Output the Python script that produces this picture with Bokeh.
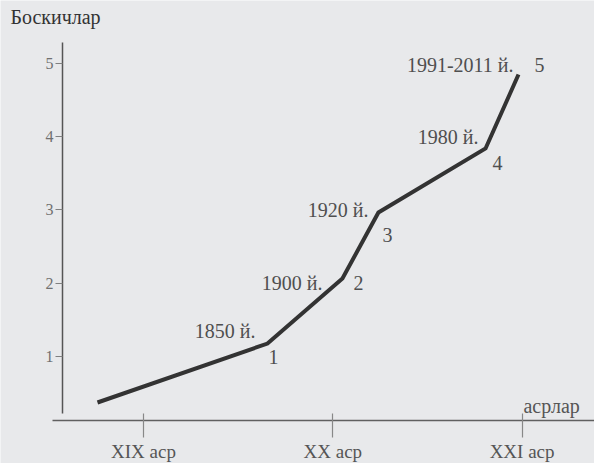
from bokeh.plotting import figure
from bokeh.models import LinearAxis, FixedTicker, Label, ColumnDataSource, Range1d
from bokeh.core.properties import value
from bokeh.embed import file_html
from bokeh.resources import INLINE

# ---- data ----
stage_x = [0.757, 1.655, 2.051, 2.241, 2.807, 2.981]
stage_y = [0.372, 1.177, 2.065, 2.966, 3.840, 4.850]
year_labels = ["1850 й.", "1900 й.", "1920 й.", "1980 й.", "1991-2011 й."]
stage_numbers = ["1", "2", "3", "4", "5"]
stage_ticks = [1, 2, 3, 4, 5]
century_ticks = [1, 2, 3]
century_labels = ["XIX аср", "XX аср", "XXI аср"]
y_title = "Боскичлар"
x_title = "асрлар"

# ---- styles / positions ----
FONT = "Liberation Serif"
BG = "#e8e9eb"
year_dx = [-12, -20, -10, -7, -5]
year_dy = [-13, 5, -2, -11, -9]
num_dx = [6, 16, 9, 12, 21]
num_dy = [13, 5, 23, 15, -9]

p = figure(width=594, height=463, output_backend="svg", toolbar_location=None,
           x_axis_location=None, y_axis_location=None, min_border=0,
           x_range=Range1d(0.2446, 3.3825), y_range=Range1d(-0.4608, 5.860))
p.background_fill_color = BG
p.border_fill_color = BG
p.outline_line_color = None
p.grid.grid_line_color = None

yaxis = LinearAxis(fixed_location=0.572, bounds=(0.222, 5.29),
                   ticker=FixedTicker(ticks=stage_ticks))
yaxis.axis_line_color = "#555555"
yaxis.axis_line_width = 1.5
yaxis.major_tick_in = 0
yaxis.major_tick_out = 7
yaxis.major_tick_line_color = "#808080"
yaxis.major_tick_line_width = 1.2
yaxis.minor_tick_line_color = None
yaxis.major_label_standoff = 2
yaxis.major_label_text_font = FONT
yaxis.major_label_text_font_size = "16px"
yaxis.major_label_text_color = "#707070"
p.add_layout(yaxis, "left")

xaxis = LinearAxis(fixed_location=0.133, bounds=(0.519, 3.3825),
                   ticker=FixedTicker(ticks=century_ticks))
xaxis.major_label_overrides = {t: l for t, l in zip(century_ticks, century_labels)}
xaxis.axis_line_color = "#606060"
xaxis.axis_line_width = 1.5
xaxis.major_tick_in = 7
xaxis.major_tick_out = 17
xaxis.major_tick_line_color = "#888888"
xaxis.major_tick_line_width = 1.2
xaxis.minor_tick_line_color = None
xaxis.major_label_standoff = 4
xaxis.major_label_text_font = FONT
xaxis.major_label_text_font_size = "19px"
xaxis.major_label_text_color = "#555555"
p.add_layout(xaxis, "below")

p.line(stage_x, stage_y, line_width=4, line_color="#333333", line_join="miter")

src = ColumnDataSource(dict(x=stage_x[1:], y=stage_y[1:], year=year_labels,
                            num=stage_numbers, ydx=year_dx, ydy=year_dy,
                            ndx=num_dx, ndy=num_dy))
p.text("x", "y", text="year", source=src, x_offset="ydx", y_offset="ydy",
       text_align="right", text_baseline="middle", text_font=value(FONT),
       text_font_size="20px", text_color="#4f4f4f")
p.text("x", "y", text="num", source=src, x_offset="ndx", y_offset="ndy",
       text_align="center", text_baseline="middle", text_font=value(FONT),
       text_font_size="20px", text_color="#4f4f4f")

p.add_layout(Label(x=0.297, y=5.628, text=y_title, text_align="left",
                   text_baseline="middle", text_font=FONT, text_font_size="20px",
                   text_color="#333333"))
p.add_layout(Label(x=3.007, y=0.331, text=x_title, text_align="left",
                   text_baseline="middle", text_font=FONT, text_font_size="20px",
                   text_color="#555555"))

open("out.html", "w").write(file_html(p, INLINE))
